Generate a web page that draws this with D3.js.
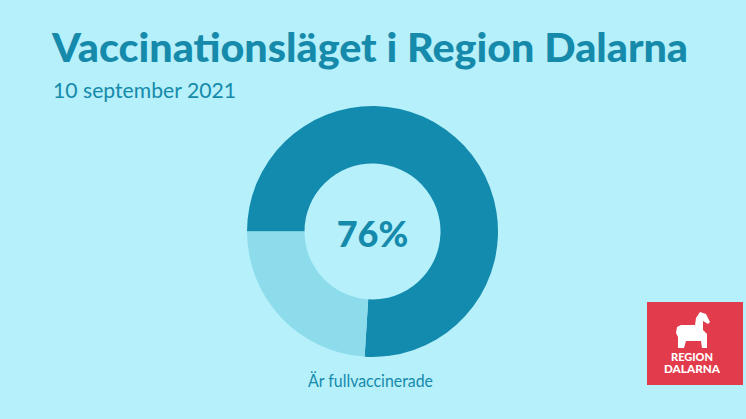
<!DOCTYPE html>
<html><head><meta charset="utf-8">
<script src="https://cdn.jsdelivr.net/npm/d3@7"></script>
<style>html,body{margin:0;padding:0;background:#b6f0fb;overflow:hidden}</style>
</head><body>
<svg id="c" width="746" height="419"></svg>
<script>
const title = "Vaccinationsläget i Region Dalarna";
const subtitle = "10 september 2021";
const categories = ["Fullvaccinerade", "Ej fullvaccinerade"];
const values = [76, 24];
const centerLabel = "76%";
const caption = "Är fullvaccinerade";
const colors = ["#138bae", "#8ddcec"];

const svg = d3.select("#c");
svg.append("rect").attr("width",746).attr("height",419).attr("fill","#b6f0fb");

svg.append("text").attr("x",52).attr("y",62).text(title)
  .attr("font-family","Lato").attr("font-weight",900).attr("font-size",39)
  .attr("fill","#158aab").attr("textLength",636).attr("lengthAdjust","spacingAndGlyphs");
svg.append("text").attr("x",53).attr("y",98).text(subtitle)
  .attr("font-family","Lato").attr("font-weight",400).attr("font-size",21)
  .attr("fill","#158aab").attr("textLength",183).attr("lengthAdjust","spacingAndGlyphs");

const cx = 372.5, cy = 231.5;
const pie = d3.pie().sort(null).value(d=>d)
  .startAngle(-Math.PI/2).endAngle(1.5*Math.PI);
const arc = d3.arc().innerRadius(68).outerRadius(125.5);
const g = svg.append("g").attr("transform",`translate(${cx},${cy})`);
g.selectAll("path").data(pie(values)).join("path")
  .attr("d",arc).attr("fill",(d,i)=>colors[i]);

g.append("text").attr("text-anchor","middle").attr("y",15).text(centerLabel)
  .attr("font-family","Lato").attr("font-weight",900).attr("font-size",36)
  .attr("fill","#158aab");

svg.append("text").attr("x",370.5).attr("y",387).attr("text-anchor","middle").text(caption)
  .attr("font-family","Lato").attr("font-weight",400).attr("font-size",16.5)
  .attr("fill","#158aab").attr("textLength",125).attr("lengthAdjust","spacingAndGlyphs");

// logo
const logo = svg.append("g");
logo.append("rect").attr("x",647).attr("y",302).attr("width",96).attr("height",83).attr("fill","#e23b4b");
logo.append("path").attr("fill","#fff").attr("d",
  "M700,312 L706,314 L710,322 L708,324 L703,321 L703,330 L707,334 L707,348 L702,348 L701,341 L686,341 L684,348 L678,348 L678,337 L676,333 L677,327 L681,325 L695,325 L696,318 Z");
logo.append("text").attr("x",692).attr("y",361).attr("text-anchor","middle").text("REGION")
  .attr("font-family","Lato").attr("font-weight",900).attr("font-size",11).attr("fill","#fff")
  .attr("textLength",42).attr("lengthAdjust","spacingAndGlyphs");
logo.append("text").attr("x",692).attr("y",373).attr("text-anchor","middle").text("DALARNA")
  .attr("font-family","Lato").attr("font-weight",900).attr("font-size",11).attr("fill","#fff")
  .attr("textLength",56).attr("lengthAdjust","spacingAndGlyphs");
</script>
</body></html>
